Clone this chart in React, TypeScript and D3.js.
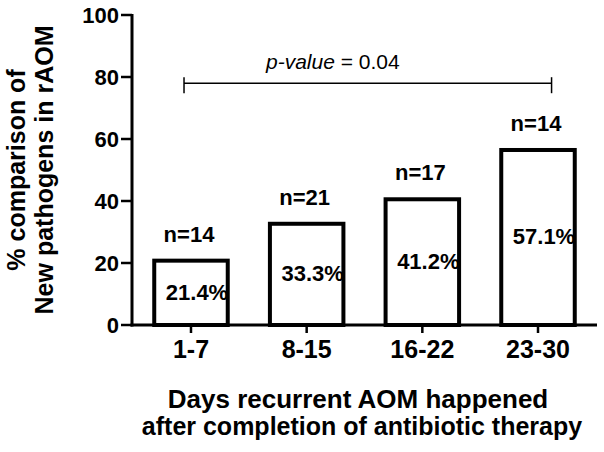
import React from "react";
import * as d3 from "d3";

const categories = ["1-7", "8-15", "16-22", "23-30"];
const percents = [21.4, 33.3, 41.2, 57.1];
const nLabels = ["n=14", "n=21", "n=17", "n=14"];
const yTicks = [0, 20, 40, 60, 80, 100];
const pValueLevel = 78;

const W = 604;
const H = 452;
const FONT = "'Liberation Sans', Arial, Helvetica, sans-serif";

export default function App() {
  const x = d3
    .scaleBand<string>()
    .domain(categories)
    .range([132, 597])
    .paddingInner(0.33)
    .paddingOuter(0.175);
  const y = d3.scaleLinear().domain([0, 100]).range([325, 15]);
  const bw = x.bandwidth();
  const x0 = x.range()[0];
  const x1 = x.range()[1];
  const bx1 = (x(categories[0]) as number) + bw * 0.41;
  const bx2 = (x(categories[3]) as number) + bw * 0.675;
  const by = y(pValueLevel);

  return (
    <div style={{ position: "absolute", left: 0, top: 0 }}>
      <svg width={W} height={H} style={{ display: "block", background: "#fff" }} fontFamily={FONT}>
        <rect width={W} height={H} fill="#fff" />
        {/* bars */}
        {categories.map((c, i) => (
          <rect
            key={c}
            x={(x(c) as number) + 2}
            y={y(percents[i]) + 2}
            width={bw - 4}
            height={y(0) - y(percents[i]) - 2}
            fill="#fff"
            stroke="#000"
            strokeWidth={4}
          />
        ))}
        {/* axes */}
        <line x1={x0} x2={x0} y1={y(100) - 1} y2={y(0) + 1.5} stroke="#000" strokeWidth={3} />
        <line x1={x0 - 1.5} x2={x1} y1={y(0)} y2={y(0)} stroke="#000" strokeWidth={3} />
        {yTicks.map((t) => (
          <g key={t}>
            <line x1={x0 - 11} x2={x0} y1={y(t)} y2={y(t)} stroke="#000" strokeWidth={2.5} />
            <text
              x={x0 - 13}
              y={y(t)}
              dy="0.36em"
              textAnchor="end"
              fontSize={22}
              fontWeight="bold"
            >
              {t}
            </text>
          </g>
        ))}
        {categories.map((c) => {
          const cx = (x(c) as number) + bw / 2;
          return (
            <g key={c}>
              <line x1={cx} x2={cx} y1={y(0)} y2={y(0) + 8} stroke="#000" strokeWidth={2.5} />
              <text x={cx} y={358} textAnchor="middle" fontSize={25} fontWeight="bold">
                {c}
              </text>
            </g>
          );
        })}
        {/* n labels */}
        {categories.map((c, i) => (
          <text
            key={"n" + c}
            x={(x(c) as number) + bw / 2 - 2}
            y={y(percents[i]) - 17}
            textAnchor="middle"
            fontSize={22}
            fontWeight="bold"
          >
            {nLabels[i]}
          </text>
        ))}
        {/* percent labels */}
        {categories.map((c, i) => (
          <text
            key={"p" + c}
            x={(x(c) as number) + bw / 2 + 6}
            y={(y(percents[i]) + y(0)) / 2}
            dy="0.36em"
            textAnchor="middle"
            fontSize={22}
            fontWeight="bold"
          >
            {percents[i].toFixed(1) + "%"}
          </text>
        ))}
        {/* p-value bracket */}
        <line x1={bx1} x2={bx2} y1={by} y2={by} stroke="#000" strokeWidth={1.5} />
        <line x1={bx1} x2={bx1} y1={by - 6} y2={by + 10} stroke="#000" strokeWidth={1.5} />
        <line x1={bx2} x2={bx2} y1={by - 6} y2={by + 10} stroke="#000" strokeWidth={1.5} />
        <text x={266} y={69} fontSize={21}>
          <tspan fontStyle="italic">p-value</tspan>
          <tspan> = 0.04</tspan>
        </text>
        {/* y title */}
        <g transform="translate(25,170) rotate(-90)">
          <text x={0} y={0} textAnchor="middle" fontSize={25} fontWeight="bold">
            % comparison of
          </text>
          <text x={0} y={28} textAnchor="middle" fontSize={25} fontWeight="bold">
            New pathogens in rAOM
          </text>
        </g>
        {/* x title */}
        <text x={358} y={408} textAnchor="middle" fontSize={26} fontWeight="bold">
          Days recurrent AOM happened
        </text>
        <text x={362} y={435} textAnchor="middle" fontSize={25} fontWeight="bold">
          after completion of antibiotic therapy
        </text>
      </svg>
    </div>
  );
}
